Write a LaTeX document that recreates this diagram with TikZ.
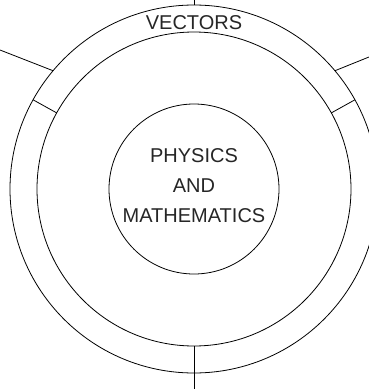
\documentclass[tikz,border=0pt]{standalone}
\usepackage{fontspec}
\setmainfont{Liberation Sans}
\begin{document}
\begin{tikzpicture}[x=1pt,y=-1pt, line width=0.8pt,
  ring/.style={circle, draw, inner sep=0pt, outer sep=0pt, minimum size=#1},
  lbl/.style={font=\fontsize{20}{30}\selectfont, align=center, inner sep=0pt, text=black!85}]
\useasboundingbox (0,0) rectangle (369,389);
\node[ring=368pt] (outer) at (194,189) {};
\node[ring=314pt] (mid) at (194,189) {};
\node[ring=170pt] (core) at (194,189) {};
\node[lbl, anchor=base] (vec) at (194,29.5) {VECTORS};
\node[lbl] (pm) at (194,186) {PHYSICS\\AND\\MATHEMATICS};
\coordinate (topend) at (194,0);
\coordinate (botend) at (194,389);
\coordinate (lend) at (0,50);
\coordinate (rend) at (369,57);
\draw (outer.north) -- (topend);
\draw (mid.south) -- (botend);
\draw (outer.151) -- (mid.151);
\draw (outer.29) -- (mid.29);
\draw (outer.140) -- (lend);
\draw (outer.40) -- (rend);
\end{tikzpicture}
\end{document}
